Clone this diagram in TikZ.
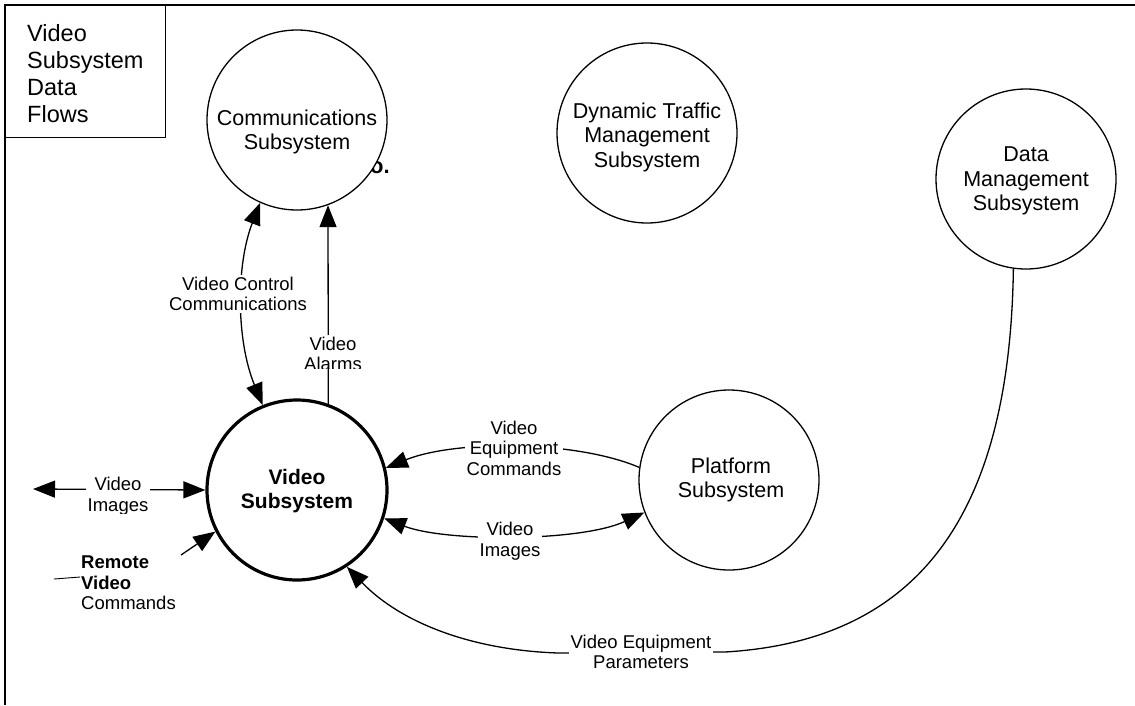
\documentclass[tikz,border=0pt]{standalone}
\usepackage{fontspec}
\setmainfont{Liberation Sans}
\usetikzlibrary{arrows.meta}
\tikzset{
  sub/.style={circle, draw, line width=1.3pt, minimum size=180pt, inner sep=0pt, fill=white},
  vsub/.style={sub, line width=3.2pt},
  ctext/.style={align=center, inner sep=0pt, font=\fontsize{21.5}{24.5}\selectfont},
  lbl/.style={align=center, fill=white, inner sep=1.5pt, font=\fontsize{18.5}{20.5}\selectfont},
  flow/.style={line width=1.3pt},
  arr/.style={-{Triangle[length=22pt,width=17pt]}},
  arrs/.style={{Triangle[length=22pt,width=17pt]}-{Triangle[length=22pt,width=17pt]}},
}
\begin{document}
\begin{tikzpicture}[x=1pt,y=-1pt]
\useasboundingbox (0,0) rectangle (1135,705);
% frame
\draw[line width=1.5pt] (1135,5) -- (5,5) -- (5,705);
% title box
\node[draw, line width=1.2pt, anchor=north west, minimum width=160pt, minimum height=132pt, inner sep=0pt] (titlebox) at (5,5) {};
\node[anchor=north west, align=left, inner sep=0pt, font=\fontsize{23.5}{27}\selectfont] (title) at (27,24) {Video\\Subsystem\\Data\\Flows};
% stray text partly hidden behind the circle
\node[anchor=base west, inner sep=0pt, font=\bfseries\fontsize{22}{24}\selectfont] (stray) at (370,173) {o.};
% circles
\node[sub] (comm) at (297,120) {};
\node[ctext] (commt) at (297,132) {Communications\\Subsystem};
\node[sub] (dtm) at (647,133) {};
\node[ctext] (dtmt) at (647,137) {Dynamic Traffic\\Management\\Subsystem};
\node[sub] (dms) at (1026,179) {};
\node[ctext] (dmst) at (1026,181) {Data\\Management\\Subsystem};
\node[vsub] (video) at (297,490) {};
\node[ctext, font=\bfseries\fontsize{21}{24}\selectfont] (videot) at (297,491) {Video\\Subsystem};
\node[sub] (platform) at (729,480) {};
\node[ctext] (platformt) at (731,480) {Platform\\Subsystem};
% connectors
\draw[flow, arrs] (video.112) .. controls (236,340) and (236,265) .. (comm.-114);
\draw[flow, arr] (video.70) -- (comm.-70);
\draw[flow, arr] (platform.172) .. controls (575,440) and (455,440) .. (video.14);
\draw[flow, arrs] (video.-18) .. controls (445,542) and (580,542) .. (platform.-159);
\coordinate (leftend) at (33,489);
\draw[flow, arrs] (leftend) -- (video.west);
\coordinate (rvs) at (181,555);
\draw[flow, arr] (rvs) -- (video.-153);
\coordinate (s1) at (54,579);
\coordinate (s2) at (80,577);
\draw[line width=0.9pt] (s1) -- (s2);
\draw[flow, arr] (dms.-98) .. controls (1010,500) and (930,640) .. (725,652) -- (558,653) .. controls (470,650) and (400,622) .. (video.-57);
% labels
\node[lbl] (vccl) at (238,294) {Video Control\\Communications};
\begin{scope}
  \clip (280,330) rectangle (390,368);
  \node[lbl] (val) at (333,354) {Video\\Alarms};
\end{scope}
\node[lbl] (vecl) at (514,448) {Video\\Equipment\\Commands};
\node[lbl] (vimid) at (510,541) {Video\\Images};
\begin{scope}
  \clip (60,470) rectangle (170,513);
  \node[lbl] (vileft) at (118,496) {Video\\Images};
\end{scope}
\node[anchor=north west, align=left, inner sep=0pt, font=\fontsize{18.5}{20.5}\selectfont] (rvc) at (81,556) {\textbf{Remote}\\\textbf{Video}\\Commands};
\node[lbl] (vepl) at (641,652) {Video Equipment\\Parameters};
\end{tikzpicture}
\end{document}
